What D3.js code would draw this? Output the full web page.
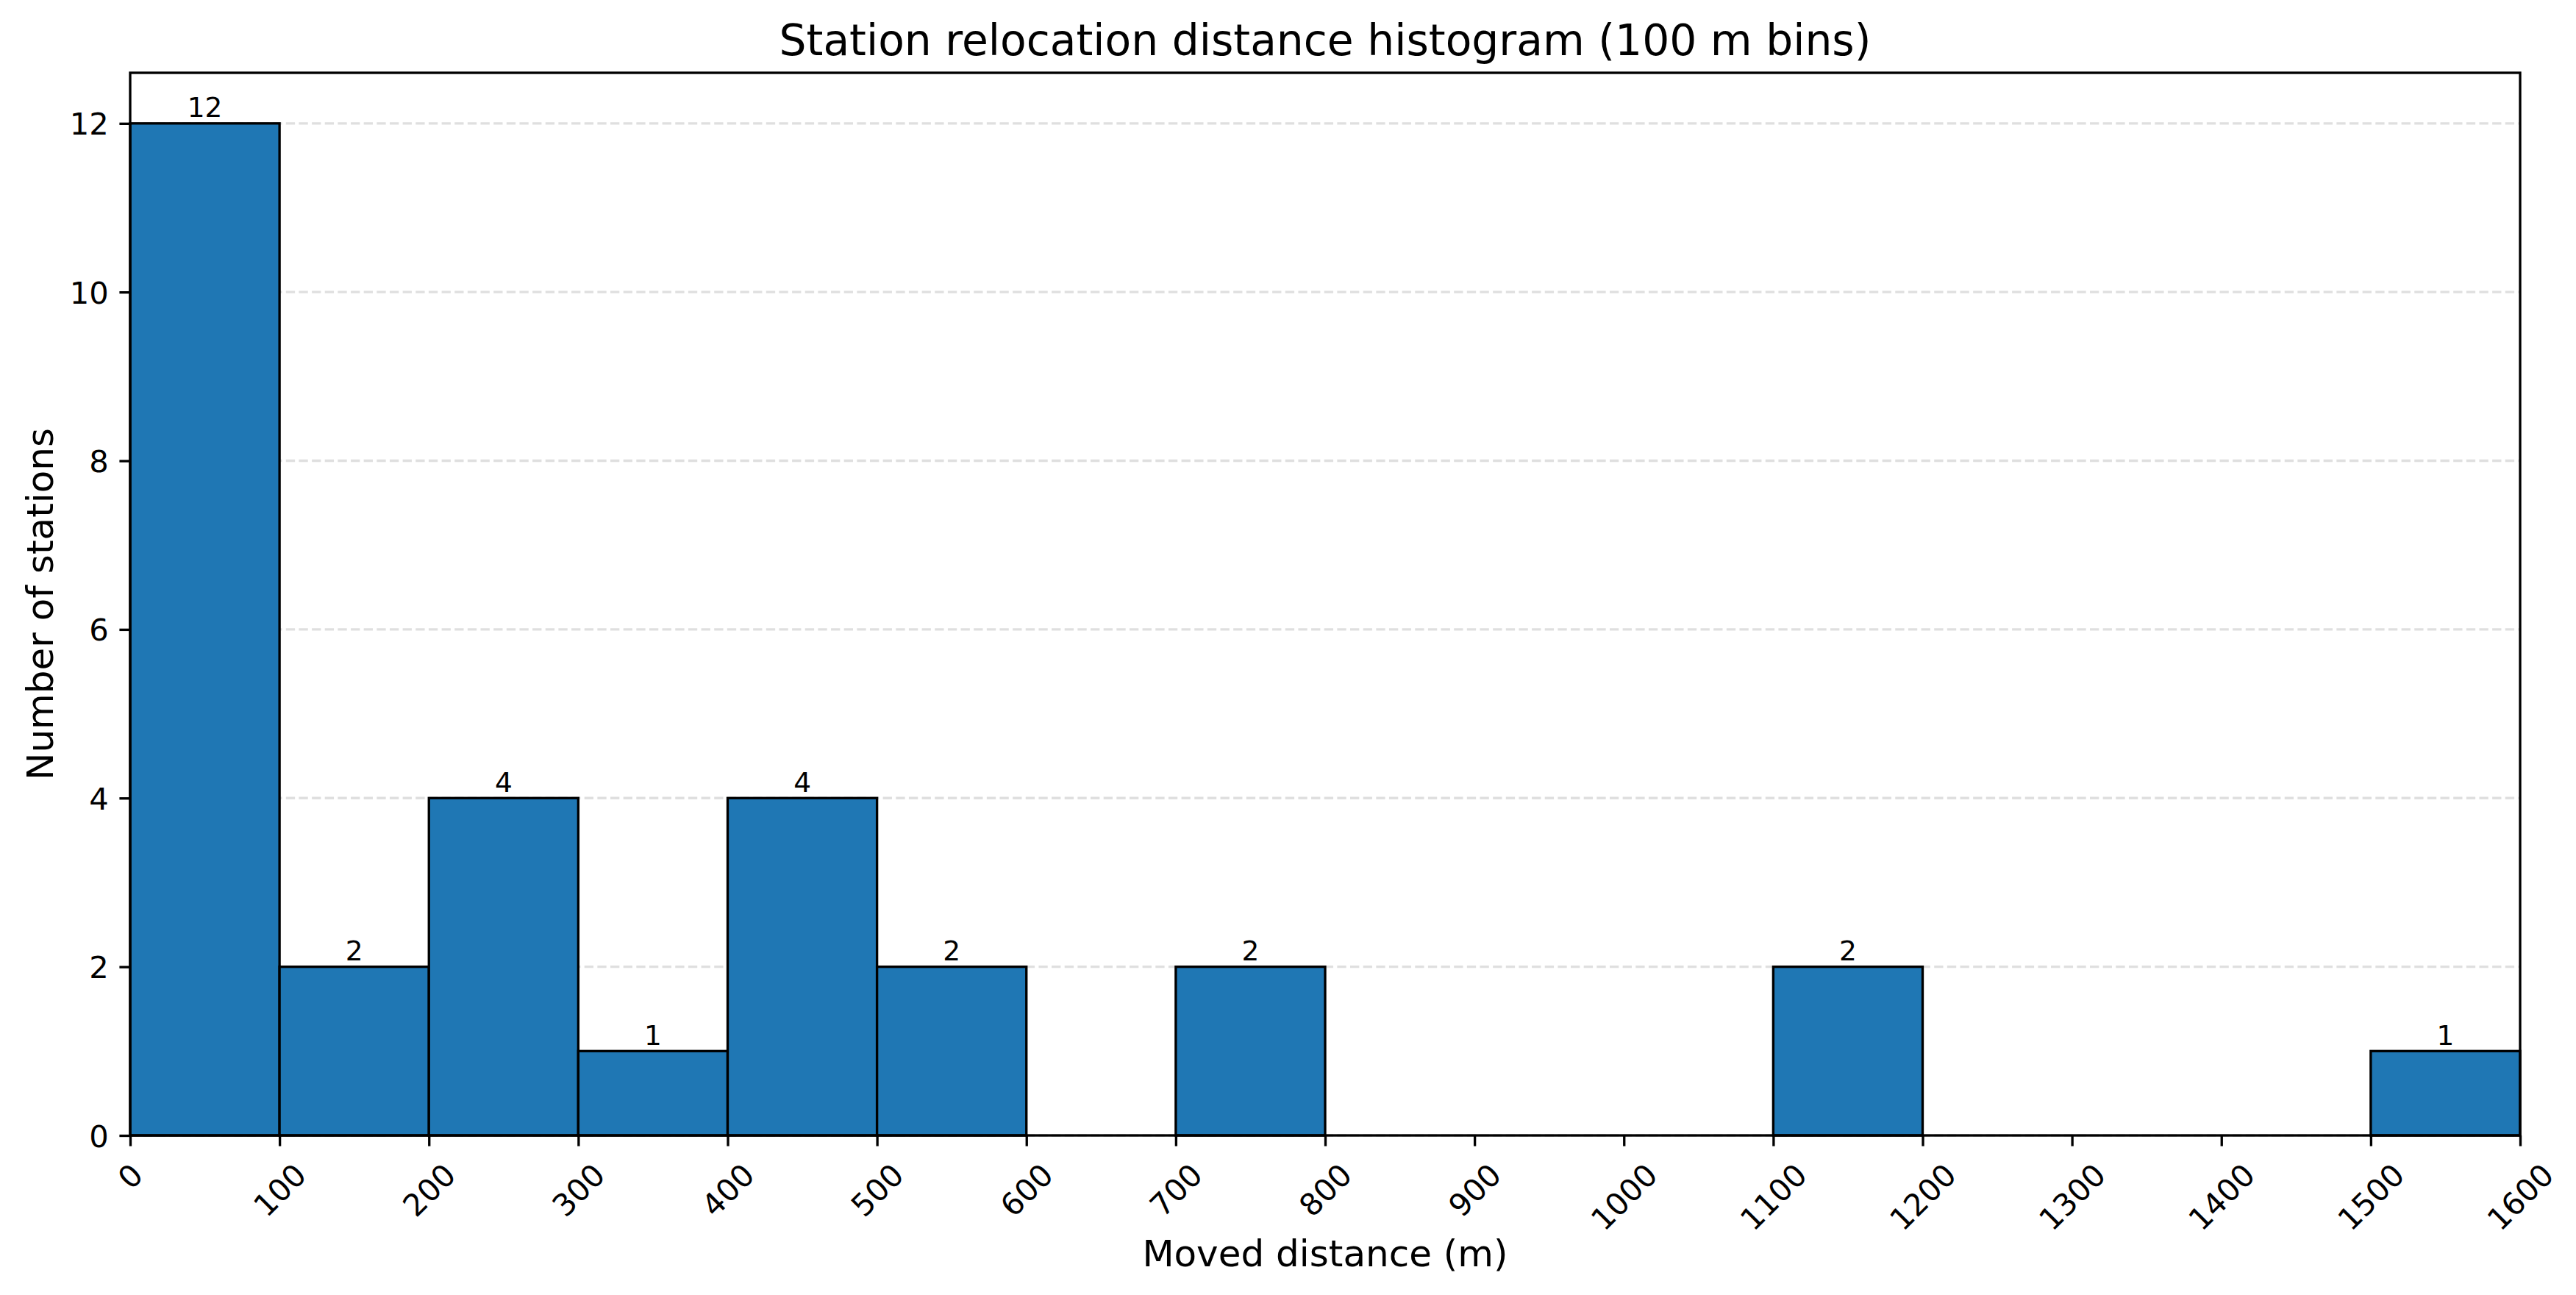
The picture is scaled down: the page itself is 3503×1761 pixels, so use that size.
<!DOCTYPE html>
<html>
<head>
<meta charset="utf-8">
<script src="https://cdn.jsdelivr.net/npm/d3@7"></script>
<style>
  html, body { margin: 0; padding: 0; background: #fff; }
  svg { display: block; }
  text { font-family: "DejaVu Sans", sans-serif; fill: #000; }
</style>
</head>
<body>
<div id="chart"></div>
<script>
// ---- data ----
const binStarts = [0, 100, 200, 300, 400, 500, 600, 700, 800, 900, 1000, 1100, 1200, 1300, 1400, 1500];
const binWidth = 100;
const counts = [12, 2, 4, 1, 4, 2, 0, 2, 0, 0, 0, 2, 0, 0, 0, 1];
const xTicks = [0, 100, 200, 300, 400, 500, 600, 700, 800, 900, 1000, 1100, 1200, 1300, 1400, 1500, 1600];
const yTicks = [0, 2, 4, 6, 8, 10, 12];
const titleText = "Station relocation distance histogram (100 m bins)";
const xLabelText = "Moved distance (m)";
const yLabelText = "Number of stations";

// ---- layout ----
const W = 3503, H = 1761;
const plot = { left: 177, right: 3427, top: 99, bottom: 1544 };
const LW = 3.33;       // 0.8pt at 300 dpi
const tickLen = 14.6, tickPad = 14.6;
const fsTick = 41.7, fsLabel = 50, fsTitle = 58.3, fsBar = 37.5;

const svg = d3.select("#chart").append("svg")
  .attr("width", W).attr("height", H);

const x = d3.scaleLinear().domain([0, 1600]).range([plot.left, plot.right]);
const y = d3.scaleLinear().domain([0, 12.6]).range([plot.bottom, plot.top]);

// grid (y only, behind bars)
svg.append("g").selectAll("line").data(yTicks).join("line")
  .attr("x1", plot.left).attr("x2", plot.right)
  .attr("y1", d => y(d)).attr("y2", d => y(d))
  .attr("stroke", "#b0b0b0").attr("stroke-opacity", 0.4)
  .attr("stroke-width", LW)
  .attr("stroke-dasharray", `${3.7 * LW},${1.6 * LW}`);

// bars
const bins = binStarts.map((s, i) => ({ x0: s, x1: s + binWidth, n: counts[i] }));
svg.append("g").selectAll("rect").data(bins).join("rect")
  .attr("x", d => x(d.x0))
  .attr("width", d => x(d.x1) - x(d.x0))
  .attr("y", d => y(d.n))
  .attr("height", d => y(0) - y(d.n))
  .attr("fill", "#1f77b4")
  .attr("stroke", "#000")
  .attr("stroke-width", LW);

// bar labels
svg.append("g").selectAll("text").data(bins.filter(d => d.n > 0)).join("text")
  .attr("x", d => x((d.x0 + d.x1) / 2))
  .attr("y", d => y(d.n) - 8.5)
  .attr("text-anchor", "middle")
  .attr("font-size", fsBar)
  .text(d => d.n);

// spines
svg.append("rect")
  .attr("x", plot.left).attr("y", plot.top)
  .attr("width", plot.right - plot.left).attr("height", plot.bottom - plot.top)
  .attr("fill", "none").attr("stroke", "#000").attr("stroke-width", LW);

// y axis ticks
const yAxis = d3.axisLeft(y).tickValues(yTicks).tickSize(tickLen).tickPadding(tickPad).tickFormat(d3.format("d"));
const gy = svg.append("g").attr("transform", `translate(${plot.left},0)`).call(yAxis);
gy.select(".domain").remove();
gy.selectAll(".tick line").attr("stroke-width", LW);
gy.selectAll(".tick text").attr("font-size", fsTick).attr("font-family", "DejaVu Sans").attr("dy", "0.36em");

// x axis ticks
const xAxis = d3.axisBottom(x).tickValues(xTicks).tickSize(tickLen).tickFormat(d3.format("d"));
const gx = svg.append("g").attr("transform", `translate(0,${plot.bottom})`).call(xAxis);
gx.select(".domain").remove();
gx.selectAll(".tick line").attr("stroke-width", LW);
gx.selectAll(".tick text")
  .attr("font-size", fsTick).attr("font-family", "DejaVu Sans")
  .attr("y", null).attr("dy", null)
  .attr("text-anchor", "middle")
  .attr("dominant-baseline", "central")
  .attr("transform", function() {
    const w = this.getComputedTextLength();
    const h = fsTick * 1.164;
    const cy = tickLen + tickPad + (w + h) * Math.SQRT1_2 / 2;
    return `translate(0,${cy}) rotate(-45)`;
  });

// title
svg.append("text")
  .attr("x", (plot.left + plot.right) / 2).attr("y", 75)
  .attr("text-anchor", "middle").attr("font-size", fsTitle)
  .text(titleText);

// x label
svg.append("text")
  .attr("x", (plot.left + plot.right) / 2).attr("y", 1722)
  .attr("text-anchor", "middle").attr("font-size", fsLabel)
  .text(xLabelText);

// y label
svg.append("text")
  .attr("transform", `translate(72,${(plot.top + plot.bottom) / 2}) rotate(-90)`)
  .attr("text-anchor", "middle").attr("font-size", fsLabel)
  .text(yLabelText);
</script>
</body>
</html>
